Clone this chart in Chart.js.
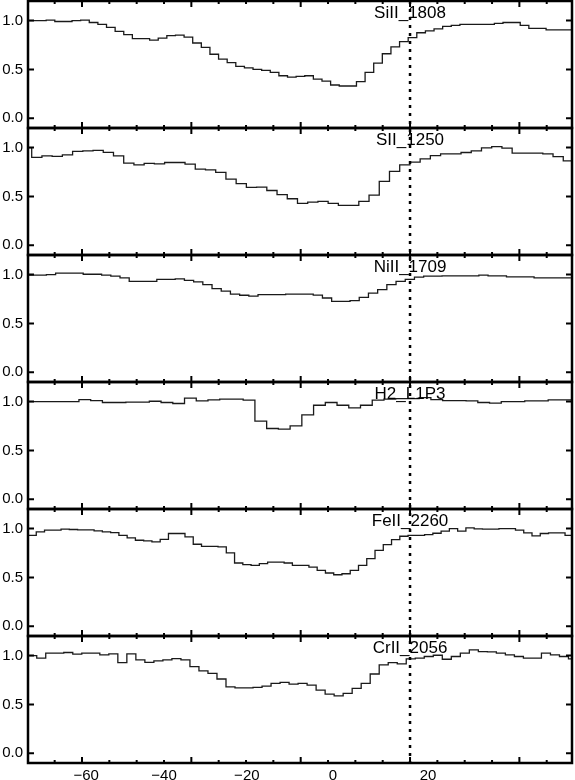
<!DOCTYPE html>
<html>
<head>
<meta charset="utf-8">
<script src="https://cdn.jsdelivr.net/npm/chart.js@4.4.1/dist/chart.umd.min.js"></script>
<style>
    html, body { margin: 0; padding: 0; background: #fff; }
    canvas { display: block; }
</style>
</head>
<body>
<canvas id="velocity-chart" width="575" height="780"></canvas>
<script>
var lineNames = ["SiII_1808", "SII_1250", "NiII_1709", "H2_L1P3", "FeII_2260", "CrII_2056"];

// normalised flux per pixel, one array per transition
var siII1808 = [1.0, 1.0, 1.005, 0.99, 0.99, 1.0, 1.005, 0.98, 0.96, 0.93,
    0.89, 0.855, 0.815, 0.815, 0.80, 0.82, 0.845, 0.85, 0.83, 0.77,
    0.725, 0.655, 0.605, 0.57, 0.53, 0.515, 0.50, 0.49, 0.47, 0.435,
    0.42, 0.428, 0.435, 0.40, 0.38, 0.34, 0.33, 0.33, 0.375, 0.47,
    0.565, 0.66, 0.73, 0.785, 0.825, 0.875, 0.895, 0.915, 0.94, 0.95,
    0.96, 0.96, 0.96, 0.96, 0.97, 0.98, 0.98, 0.95, 0.92, 0.92,
    0.905, 0.905, 0.905];
var sII1250 = [1.0, 0.90, 0.915, 0.91, 0.925, 0.96, 0.965, 0.97, 0.95, 0.915,
    0.84, 0.823, 0.837, 0.833, 0.847, 0.847, 0.83, 0.78, 0.772, 0.745,
    0.677, 0.63, 0.592, 0.595, 0.56, 0.517, 0.476, 0.428, 0.442, 0.449,
    0.428, 0.407, 0.407, 0.449, 0.513, 0.653, 0.755, 0.823, 0.85, 0.884,
    0.918, 0.935, 0.935, 0.949, 0.966, 0.997, 1.01, 0.993, 0.942, 0.942,
    0.942, 0.935, 0.908, 0.864];
var niII1709 = [0.993, 0.993, 1.0, 1.014, 1.014, 1.014, 1.003, 1.003, 0.993, 0.983,
    0.966, 0.93, 0.93, 0.93, 0.95, 0.95, 0.955, 0.94, 0.925, 0.897,
    0.856, 0.83, 0.80, 0.788, 0.78, 0.795, 0.795, 0.795, 0.80, 0.80,
    0.80, 0.79, 0.76, 0.726, 0.726, 0.733, 0.767, 0.81, 0.846, 0.897,
    0.93, 0.95, 0.973, 0.983, 0.983, 0.986, 0.986, 0.986, 0.986, 0.993,
    0.986, 0.986, 0.976, 0.976, 0.976, 0.966, 0.966, 0.966, 0.966];
var h2L1P3 = [1.0, 1.0, 1.0, 1.0, 1.0, 1.02, 1.01, 0.99, 0.99, 0.993,
    0.993, 1.003, 0.99, 0.98, 1.034, 1.007, 1.017, 1.024, 1.024, 1.014,
    0.80, 0.724, 0.717, 0.75, 0.863, 0.962, 0.99, 0.962, 0.935, 0.962,
    1.014, 1.024, 1.03, 1.03, 1.04, 1.02, 1.01, 1.01, 1.007, 0.99,
    0.983, 1.0, 1.0, 1.007, 1.007, 1.017, 1.017];
var feII2260 = [0.93, 0.966, 0.983, 0.983, 0.993, 0.99, 0.986, 0.986, 0.976, 0.965,
    0.959, 0.93, 0.904, 0.88, 0.873, 0.863, 0.89, 0.949, 0.949, 0.914,
    0.839, 0.818, 0.818, 0.812, 0.75, 0.647, 0.63, 0.623, 0.64, 0.657,
    0.657, 0.647, 0.623, 0.623, 0.606, 0.572, 0.545, 0.527, 0.537, 0.572,
    0.623, 0.692, 0.777, 0.836, 0.887, 0.921, 0.93, 0.93, 0.938, 0.952,
    0.973, 1.0, 0.973, 1.007, 0.997, 0.993, 0.993, 1.0, 1.0, 0.983,
    0.955, 0.925, 0.949, 0.955, 0.955, 0.93];
var crII2056 = [1.0, 0.973, 1.024, 1.024, 1.031, 1.014, 1.024, 1.024, 1.007, 1.017,
    0.928, 1.017, 0.955, 0.931, 0.945, 0.955, 0.969, 0.955, 0.887, 0.842,
    0.818, 0.76, 0.68, 0.67, 0.67, 0.674, 0.687, 0.715, 0.725, 0.708,
    0.715, 0.698, 0.646, 0.605, 0.588, 0.612, 0.663, 0.715, 0.811, 0.904,
    0.928, 0.914, 0.966, 0.973, 0.99, 1.003, 0.962, 0.99, 1.024, 1.058,
    1.041, 1.038, 1.024, 1.007, 0.99, 0.973, 0.973, 1.024, 1.007, 0.99,
    0.966];

// velocity of first pixel edge and pixel width (km/s) for each transition
var binStart = [-72.94, -74.76, -73.17, -75.05, -73.17, -73.24];
var binWidth = [2.102, 2.493, 2.244, 2.861, 2.015, 2.198];

// bottom axis labels as they sit on the original plot
var xLabelValues = [-59.0, -40.0, -19.8, 1.2, 24.4];
var xLabels = ["\u221260", "\u221240", "\u221220", "0", "20"];
var yTicks = [0, 0.5, 1.0];
var markerVelocity = 20;

var fluxes = [siII1808, sII1250, niII1709, h2L1P3, feII2260, crII2056];
var FONT = "'Liberation Sans', Arial, Helvetica, sans-serif";

function stepPoints(values, start, width) {
    var pts = values.map(function (v, i) {
        return {x: start + i * width, y: v};
    });
    pts.push({x: start + values.length * width, y: values[values.length - 1]});
    return pts;
}

function xTickValues(scale) {
    var vals = [];
    for (var k = -3; k < 30; k++) {
        var v = -60 + k * 20 / 3;
        if (v > scale.min && v < scale.max) vals.push({v: v, major: ((k % 4) + 4) % 4 === 0});
    }
    return vals;
}

var panelFrames = {
    id: 'panelFrames',
    afterDatasetsDraw: function (chart) {
        var ctx = chart.ctx;
        var xs = chart.scales.x;
        var area = chart.chartArea;
        var mx = xs.getPixelForValue(markerVelocity);
        var ticks = xTickValues(xs);
        ctx.save();
        ctx.strokeStyle = '#000';
        ctx.fillStyle = '#000';

        ctx.lineWidth = 2.5;
        ctx.setLineDash([3, 5]);
        ctx.beginPath();
        ctx.moveTo(mx, area.top);
        ctx.lineTo(mx, area.bottom);
        ctx.stroke();
        ctx.setLineDash([]);

        lineNames.forEach(function (name, i) {
            var ys = chart.scales['p' + i];
            var top = ys.top, bot = ys.bottom;
            ctx.lineWidth = 2;
            ctx.beginPath();
            ticks.forEach(function (t) {
                var px = xs.getPixelForValue(t.v);
                var len = t.major ? 6 : 3;
                ctx.moveTo(px, top);
                ctx.lineTo(px, top + len);
                ctx.moveTo(px, bot);
                ctx.lineTo(px, bot - len);
            });
            yTicks.forEach(function (v) {
                var py = ys.getPixelForValue(v);
                ctx.moveTo(xs.left, py);
                ctx.lineTo(xs.left + 6, py);
                ctx.moveTo(xs.right, py);
                ctx.lineTo(xs.right - 6, py);
            });
            ctx.stroke();
            ctx.lineWidth = 2.5;
            ctx.strokeRect(xs.left, top, xs.right - xs.left, bot - top);

            ctx.font = '17px ' + FONT;
            ctx.textAlign = 'center';
            ctx.textBaseline = 'alphabetic';
            ctx.fillText(name, mx, top + 17);
        });
        ctx.restore();
    }
};

function buildConfig() {
    var datasets = fluxes.map(function (vals, i) {
        return {
            label: lineNames[i],
            data: stepPoints(vals, binStart[i], binWidth[i]),
            yAxisID: 'p' + i,
            stepped: 'before',
            borderColor: '#1a1a1a',
            borderWidth: 1.3,
            pointRadius: 0,
            fill: false
        };
    });

    var scales = {
        x: {
            type: 'linear',
            position: 'bottom',
            min: -73.17,
            max: 59.5,
            grid: {display: false, drawTicks: false},
            border: {display: false},
            afterBuildTicks: function (axis) {
                axis.ticks = xLabelValues.map(function (v) { return {value: v}; });
            },
            afterFit: function (axis) {
                axis.height = 17;
                axis.paddingLeft = 0;
                axis.paddingRight = 0;
            },
            ticks: {
                autoSkip: false,
                maxRotation: 0,
                padding: 4,
                color: '#000',
                font: {family: FONT, size: 15},
                callback: function (value, index) { return xLabels[index]; }
            }
        }
    };
    // last added left axis is stacked on top, so add the bottom panel first
    for (var i = lineNames.length - 1; i >= 0; i--) {
        scales['p' + i] = {
            type: 'linear',
            position: 'left',
            stack: 'panels',
            stackWeight: 1,
            min: -0.1,
            max: 1.2,
            grid: {display: false, drawTicks: false},
            border: {display: false},
            afterBuildTicks: function (axis) {
                axis.ticks = yTicks.map(function (v) { return {value: v}; });
            },
            afterFit: function (axis) {
                axis.width = 28;
                axis.paddingTop = 0;
                axis.paddingBottom = 0;
            },
            ticks: {
                padding: 5,
                color: '#000',
                font: {family: FONT, size: 15},
                callback: function (value) { return value.toFixed(1); }
            }
        };
    }

    return {
        type: 'line',
        data: {datasets: datasets},
        options: {
            responsive: false,
            devicePixelRatio: 1,
            animation: false,
            layout: {padding: {top: 1, right: 3, left: 0, bottom: 0}},
            plugins: {
                legend: {display: false},
                tooltip: {enabled: false}
            },
            scales: scales
        },
        plugins: [panelFrames]
    };
}

new Chart(document.getElementById("velocity-chart").getContext("2d"), buildConfig());
</script>
</body>
</html>
